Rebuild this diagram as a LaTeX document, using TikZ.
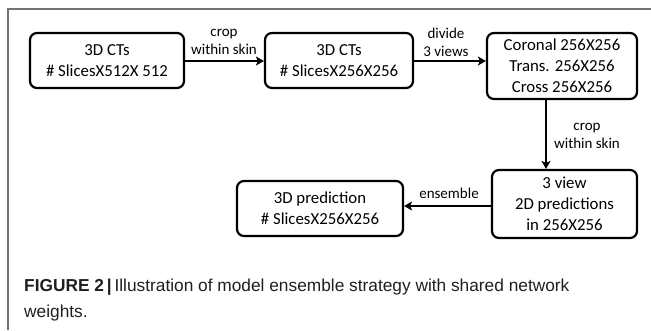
\documentclass[tikz,border=0pt]{standalone}
\usepackage{fontspec}
\setmainfont{Carlito}
\newfontfamily\capfont{Liberation Sans}
\usetikzlibrary{arrows.meta}
\tikzset{
  box/.style={draw=black, line width=2.2pt, rounded corners=7pt, inner sep=0pt, align=center,
    font=\fontsize{16.8}{21}\selectfont},
  conn/.style={line width=2pt, -{Stealth[length=8pt,width=9pt,inset=2pt]}},
  lbl/.style={inner sep=0pt, align=center, font=\fontsize{15}{18}\selectfont},
  frame/.style={draw=black!55, line width=1.1pt},
  captxt/.style={inner sep=0pt, anchor=base west, font=\capfont\fontsize{17.3}{26}\selectfont, text=black!88}
}
\begin{document}
\begin{tikzpicture}[x=1pt,y=-1pt]
\useasboundingbox (0,0) rectangle (651,330);
\draw[frame] (8,330) -- (8,9) -- (651,9);

\node[box, minimum width=154pt, minimum height=55pt] (b1) at (107,60.5) {3D CTs\\\# SlicesX512X 512};
\node[box, minimum width=148pt, minimum height=55pt] (b2) at (339,60.5) {3D CTs\\\# SlicesX256X256};
\node[box, minimum width=150pt, minimum height=66pt] (b3) at (562,66) {Coronal 256X256\\Trans. 256X256\\Cross 256X256};
\node[box, minimum width=145pt, minimum height=68pt] (b4) at (564.5,204) {3 view\\2D predictions\\in 256X256};
\node[box, minimum width=166pt, minimum height=55pt] (b5) at (320,208.5) {3D prediction\\\# SlicesX256X256};

\coordinate (vx) at (546,0);
\coordinate (hy) at (0,206);

\draw[conn] (b1.east |- 0,61) -- (b2.west |- 0,61);
\draw[conn] (b2.east |- 0,61) -- (b3.west |- 0,61);
\draw[conn] (b3.south -| vx) -- (b4.north -| vx);
\draw[conn] (b4.west |- hy) -- (b5.east |- hy);

\node[lbl] (l1) at (224,42) {crop\\within skin};
\node[lbl] (l2) at (446,42) {divide\\3 views};
\node[lbl] (l3) at (587,136) {crop\\within skin};
\node[lbl] (l4) at (449,193) {ensemble};

\node[captxt] (c1) at (24,291) {\textbf{FIGURE 2\,|}\,Illustration of model ensemble strategy with shared network};
\node[captxt] (c2) at (24,317) {weights.};
\end{tikzpicture}
\end{document}
